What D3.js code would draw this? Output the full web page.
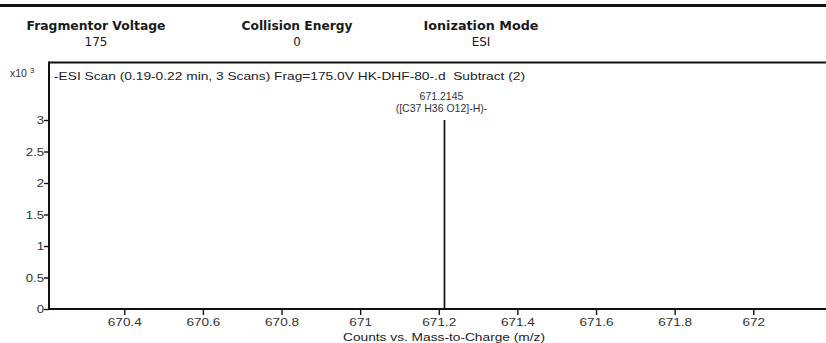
<!DOCTYPE html>
<html><head><meta charset="utf-8">
<script src="https://cdn.jsdelivr.net/npm/d3@7"></script>
<style>
html,body{margin:0;padding:0;background:#fff;}
svg{display:block;}
</style></head>
<body>
<script>
// Data
const headerLabels = ["Fragmentor Voltage", "Collision Energy", "Ionization Mode"];
const headerValues = ["175", "0", "ESI"];
const peakMz = [671.2145];
const peakCounts = [3.0]; // x10^3
const peakLabels = [["671.2145", "([C37 H36 O12]-H)-"]];
const xTicks = [670.4, 670.6, 670.8, 671, 671.2, 671.4, 671.6, 671.8, 672];
const yTicks = [0, 0.5, 1, 1.5, 2, 2.5, 3];
const scanTitle = "-ESI Scan (0.19-0.22 min, 3 Scans) Frag=175.0V HK-DHF-80-.d  Subtract (2)";
const xTitle = "Counts vs. Mass-to-Charge (m/z)";

(function () {
const W = 826, H = 343;
const svg = d3.select("body").append("svg").attr("width", W).attr("height", H);

function stretch(sel, f) {
  sel.each(function () {
    const w = this.getComputedTextLength();
    d3.select(this).attr("textLength", w * f).attr("lengthAdjust", "spacingAndGlyphs");
  });
}

// top rule
svg.append("line").attr("x1", 0).attr("x2", W).attr("y1", 5.5).attr("y2", 5.5)
  .attr("stroke", "#111").attr("stroke-width", 3);

// header
const hx = [96, 297, 481];
const hw = [139, 111, 115];
headerLabels.forEach((t, i) => {
  svg.append("text").attr("x", hx[i]).attr("y", 30).attr("text-anchor", "middle")
    .attr("font-family", "DejaVu Sans").attr("font-weight", "bold").attr("font-size", 12)
    .attr("fill", "#1a1a1a").attr("textLength", hw[i]).attr("lengthAdjust", "spacingAndGlyphs").text(t);
  svg.append("text").attr("x", hx[i]).attr("y", 45.5).attr("text-anchor", "middle")
    .attr("font-family", "DejaVu Sans").attr("font-size", 12)
    .attr("fill", "#1a1a1a").text(headerValues[i]);
});

const pL = 49, pR = 826, pT = 62.5, pB = 309;
const x = d3.scaleLinear().domain([670.2085, 672.185]).range([pL, pR]);
const y = d3.scaleLinear().domain([0, 3.913]).range([pB, pT]);

const font = "Liberation Sans, Arial, sans-serif";

// frame: top line and left axis
svg.append("line").attr("x1", pL).attr("x2", pR).attr("y1", pT).attr("y2", pT)
  .attr("stroke", "#111").attr("stroke-width", 2);

const yAxis = d3.axisLeft(y).tickValues(yTicks).tickSize(5).tickSizeOuter(0)
  .tickFormat(d => d3.format("~g")(d));
const gy = svg.append("g").attr("transform", `translate(${pL},0)`).call(yAxis);
gy.select(".domain").remove();
gy.selectAll(".tick line").attr("stroke", "#111").attr("stroke-width", 1.4);
gy.selectAll(".tick text").attr("font-family", font).attr("font-size", 11).attr("fill", "#333").attr("x", -5);
stretch(gy.selectAll(".tick text"), 1.2);
svg.append("line").attr("x1", pL).attr("x2", pL).attr("y1", pT - 1).attr("y2", pB + 1)
  .attr("stroke", "#111").attr("stroke-width", 2);

const xAxis = d3.axisBottom(x).tickValues(xTicks).tickSize(6).tickSizeOuter(0)
  .tickFormat(d => d3.format("~g")(d));
const gx = svg.append("g").attr("transform", `translate(0,${pB})`).call(xAxis);
gx.select(".domain").remove();
gx.selectAll(".tick line").attr("stroke", "#111").attr("stroke-width", 1.4);
gx.selectAll(".tick text").attr("font-family", font).attr("font-size", 11.5).attr("fill", "#333").attr("y", 9);
stretch(gx.selectAll(".tick text"), 1.18);
svg.append("line").attr("x1", pL).attr("x2", pR).attr("y1", pB).attr("y2", pB)
  .attr("stroke", "#111").attr("stroke-width", 2);

// y multiplier
const mt = svg.append("text").attr("x", 10).attr("y", 77).attr("font-family", font)
  .attr("font-size", 10.5).attr("fill", "#333");
mt.append("tspan").text("x10");
mt.append("tspan").attr("dx", 3).attr("dy", -4).attr("font-size", 8).text("3");

// scan title
svg.append("text").attr("x", 54).attr("y", 80).attr("font-family", font).attr("font-size", 11)
  .attr("fill", "#222").attr("textLength", 471).attr("lengthAdjust", "spacingAndGlyphs")
  .style("white-space", "pre").text(scanTitle);

// peaks
peakMz.forEach((m, i) => {
  svg.append("line").attr("x1", x(m)).attr("x2", x(m)).attr("y1", y(0)).attr("y2", y(peakCounts[i]))
    .attr("stroke", "#111").attr("stroke-width", 1.7);
  const lx = x(m) - 3;
  svg.append("text").attr("x", lx).attr("y", 100).attr("text-anchor", "middle")
    .attr("font-family", font).attr("font-size", 10.5).attr("fill", "#333").text(peakLabels[i][0]);
  svg.append("text").attr("x", lx).attr("y", 112).attr("text-anchor", "middle")
    .attr("font-family", font).attr("font-size", 10.5).attr("fill", "#333").text(peakLabels[i][1]);
});

// x title
svg.append("text").attr("x", 444).attr("y", 341).attr("text-anchor", "middle")
  .attr("font-family", font).attr("font-size", 11).attr("fill", "#222")
  .attr("textLength", 202).attr("lengthAdjust", "spacingAndGlyphs").text(xTitle);
})();
</script>
</body></html>
